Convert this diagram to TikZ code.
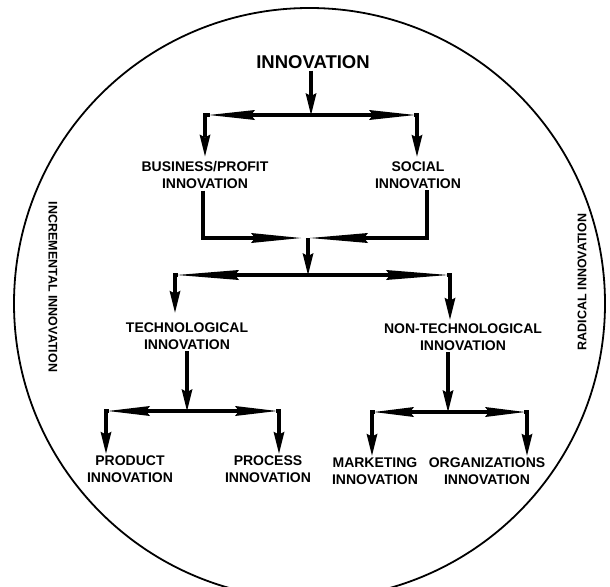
\documentclass[tikz,border=0pt]{standalone}
\usepackage{fontspec}
\setmainfont{Liberation Sans}
\usetikzlibrary{arrows.meta}

\begin{document}
\begin{tikzpicture}[x=1pt, y=-1pt,
  lbl/.style={font=\fontsize{14}{16.5}\selectfont\bfseries, align=center, inner sep=2pt},
  sidelbl/.style={font=\fontsize{12.5}{15}\selectfont\bfseries, inner sep=0pt},
  link/.style={line width=3.5pt},
  harrow/.style={link, -{Stealth[length=#1, width=10pt, inset=4pt, line width=0pt]}},
  harrow/.default=46pt,
  varrow/.style={link, -{Stealth[length=22pt, width=11pt, inset=3pt, line width=0pt]}},
]
\useasboundingbox (0,0) rectangle (610,586);
\clip (0,0) rectangle (610,586);

% Outer circle
\draw[line width=1.8pt] (309.5,303.5) circle [radius=295.5];

% Nodes
\node[lbl, font=\fontsize{18.5}{20}\selectfont\bfseries] (inno) at (313,62) {INNOVATION};
\node[lbl] (biz) at (205,175) {BUSINESS/PROFIT\\INNOVATION};
\node[lbl] (soc) at (418,175) {SOCIAL\\INNOVATION};
\node[lbl] (tech) at (187,336) {TECHNOLOGICAL\\INNOVATION};
\node[lbl] (ntech) at (463,337) {NON-TECHNOLOGICAL\\INNOVATION};
\node[lbl] (prod) at (130,469) {PRODUCT\\INNOVATION};
\node[lbl] (proc) at (268,469) {PROCESS\\INNOVATION};
\node[lbl] (mark) at (375,471) {MARKETING\\INNOVATION};
\node[lbl] (org) at (487,471) {ORGANIZATIONS\\INNOVATION};
\node[sidelbl, rotate=-90] (incr) at (53,287) {INCREMENTAL INNOVATION};
\node[sidelbl, rotate=90] (radi) at (582,282) {RADICAL INNOVATION};

% Junctions
\coordinate (s1) at (311,115);
\coordinate (b1) at (205,115);
\coordinate (b2) at (417,115);
\coordinate (m1) at (203,238);
\coordinate (m2) at (427,238);
\coordinate (m0) at (308,238);
\coordinate (s2) at (308,275);
\coordinate (t1) at (175,275);
\coordinate (t2) at (450,275);
\coordinate (s3) at (187,411);
\coordinate (p1) at (106,411);
\coordinate (p2) at (279,411);
\coordinate (s4) at (448,412);
\coordinate (p3) at (372,412);
\coordinate (p4) at (527,412);

% Level 1
\draw[varrow] (inno.south -| s1) -- (s1);
\draw[harrow] (s1) -- ([xshift=4pt]b1);
\draw[harrow] (s1) -- ([xshift=-2pt]b2);
\draw[link] ([xshift=-1.75pt]b1) -- ([xshift=5pt]b1);
\draw[link] ([xshift=1.75pt]b2) -- ([xshift=-3pt]b2);
\draw[varrow, shorten >=3pt] ([yshift=1.75pt]b1) -- (biz.north -| b1);
\draw[varrow, shorten >=3pt] ([yshift=1.75pt]b2) -- (soc.north -| b2);

% Merge
\draw[link] (biz.south -| m1) -- (m1);
\draw[link] (soc.south -| m2) -- (m2);
\draw[harrow=50pt] ([xshift=-1.75pt]m1) -- ([xshift=-7pt]m0);
\draw[harrow=58pt] ([xshift=1.75pt]m2) -- ([xshift=2pt]m0);
\draw[varrow] (m0) -- (s2);

% Level 2
\draw[harrow=62pt] (s2) -- ([xshift=2pt]t1);
\draw[harrow=62pt] (s2) -- ([xshift=-2pt]t2);
\draw[link] ([xshift=-1.75pt]t1) -- ([xshift=3pt]t1);
\draw[link] ([xshift=1.75pt]t2) -- ([xshift=-3pt]t2);
\draw[varrow, shorten >=8pt] ([yshift=1.75pt]t1) -- (tech.north -| t1);
\draw[varrow, shorten >=2pt] ([yshift=1.75pt]t2) -- (ntech.north -| t2);

% Level 3
\draw[varrow] (tech.south -| s3) -- (s3);
\draw[harrow=42pt] (s3) -- ([xshift=2pt]p1);
\draw[harrow=42pt] (s3) -- ([xshift=-2pt]p2);
\draw[link] ([xshift=-1.75pt]p1) -- ([xshift=3pt]p1);
\draw[link] ([xshift=1.75pt]p2) -- ([xshift=-3pt]p2);
\draw[varrow] ([yshift=1.75pt]p1) -- (prod.north -| p1);
\draw[varrow] ([yshift=1.75pt]p2) -- (proc.north -| p2);
\draw[varrow] (ntech.south -| s4) -- (s4);
\draw[harrow=40pt] (s4) -- ([xshift=2pt]p3);
\draw[harrow=40pt] (s4) -- ([xshift=-2pt]p4);
\draw[link] ([xshift=-1.75pt]p3) -- ([xshift=3pt]p3);
\draw[link] ([xshift=1.75pt]p4) -- ([xshift=-3pt]p4);
\draw[varrow] ([yshift=1.75pt]p3) -- (mark.north -| p3);
\draw[varrow] ([yshift=1.75pt]p4) -- (org.north -| p4);

\end{tikzpicture}
\end{document}
